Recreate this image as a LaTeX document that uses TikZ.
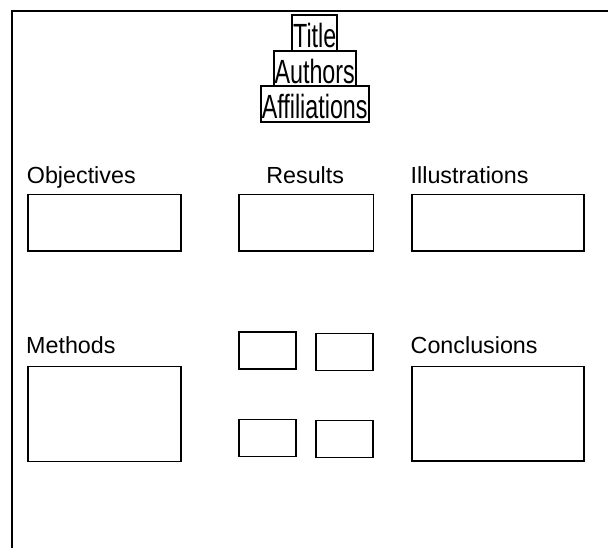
\documentclass[tikz,border=0pt]{standalone}
\usepackage{graphicx}
\usepackage{fontspec}
\setmainfont{Liberation Sans}
\usetikzlibrary{positioning}

\begin{document}
\begin{tikzpicture}[x=1pt,y=-1pt,node distance=0pt]
  \tikzstyle{heading}=[anchor=base west,inner sep=0pt,font=\fontsize{23.3}{28}\selectfont]
  \tikzstyle{banner}=[rectangle,draw,line width=2pt,outer sep=0pt,inner xsep=1pt,inner ysep=0pt,
                      text height=32.5pt,text depth=3pt,font=\fontsize{23.3}{28}\selectfont]
  \tikzstyle{panel}=[rectangle,draw,line width=1.5pt,anchor=north west,inner sep=0pt]
  \tikzstyle{tile}=[panel,minimum width=57pt,minimum height=37pt]

  \useasboundingbox (0,0) rectangle (608,548);
  \draw [line width=2pt] (12,560) -- (12,11) -- (620,11); % sheet edge

  % header stack
  \node [banner,anchor=north] (title) at (314.7,15.5) {\scalebox{1}[1.44]{Title}};
  \node [banner,below=of title] (authors) {\scalebox{1}[1.44]{Authors}};
  \node [banner,below=of authors] (affil) {\scalebox{1}[1.44]{Affiliations}};

  % upper row
  \node [panel,minimum width=153pt,minimum height=56.5pt] (obj) at (27.3,194) {};
  \node [panel,minimum width=134.5pt,minimum height=56.5pt] (res) at (238,194) {};
  \node [panel,minimum width=172pt,minimum height=56.5pt] (ill) at (411.3,194) {};
  \node [heading] (objlbl) at (26.7,183.3) {Objectives};
  \node [heading,anchor=base] (reslbl) at (305.2,183.3) {Results};
  \node [heading] (illlbl) at (410.5,183.3) {Illustrations};

  % lower row
  \node [panel,minimum width=153pt,minimum height=95pt] (met) at (27.3,365.6) {};
  \node [panel,minimum width=172pt,minimum height=94.5pt] (con) at (411.3,365.8) {};
  \node [heading] (metlbl) at (26,353.3) {Methods};
  \node [heading] (conlbl) at (410.5,353.3) {Conclusions};

  \node [tile] (figa) at (238.3,331.3) {};
  \node [tile] (figb) at (315.3,332.6) {};
  \node [tile] (figc) at (238.3,418.6) {};
  \node [tile] (figd) at (315.3,419.8) {};
\end{tikzpicture}
\end{document}
